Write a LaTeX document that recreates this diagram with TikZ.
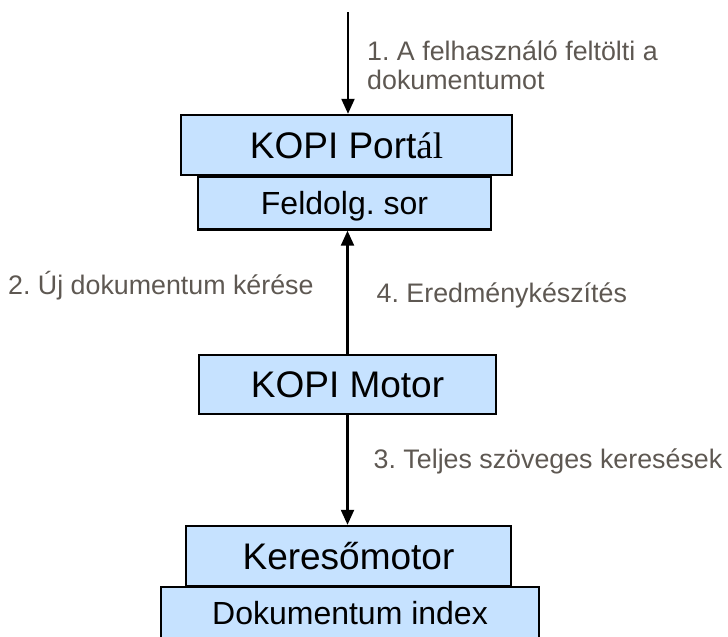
\documentclass[tikz,border=0pt]{standalone}
\usepackage{fontspec}
\setmainfont{Liberation Sans}
\newfontfamily\timesfont{Liberation Serif}
\usepackage{xcolor}
\usetikzlibrary{arrows.meta}
\frenchspacing
\definecolor{dobozkek}{RGB}{198,226,255}
\definecolor{szurke}{RGB}{94,88,82}
\def\felirat#1#2#3{\node[felirat] (#1) at (#2) {#3}}
\tikzstyle{doboz}=[draw=black,line width=2.4pt,fill=dobozkek,inner sep=0pt,text height=26.5pt,text depth=0pt,font=\fontsize{37}{44}\selectfont]
\tikzstyle{aldoboz}=[doboz,text height=23pt,font=\fontsize{32}{38}\selectfont]
\tikzstyle{felirat}=[anchor=base west,inner sep=0pt,align=left,text=szurke,font=\fontsize{26.8}{29}\selectfont]
\tikzstyle{nyil}=[line width=2.2pt,-{Triangle[length=15pt,width=13pt]}]

\begin{document}
\begin{tikzpicture}[x=1pt,y=-1pt]
    \useasboundingbox (0,0) rectangle (728,637);
    \node[doboz,minimum width=331pt,minimum height=60pt] (portal) at (346.5,145) {KOPI Port{\timesfont ál}};
    \node[aldoboz,minimum width=293pt,minimum height=53pt] (sor) at (344.5,203) {Feldolg. sor};
    \node[doboz,minimum width=297pt,minimum height=59pt] (motor) at (347.5,384.5) {KOPI Motor};
    \node[doboz,minimum width=325pt,minimum height=60pt] (kereso) at (348.5,556) {Keresőmotor};
    \node[aldoboz,minimum width=378pt,minimum height=52pt] (index) at (350,613) {Dokumentum index};
    \coordinate (be) at (348,12);
    \draw[nyil] (be) -- (be |- portal.north);
    \draw[nyil] (motor.north) -- (motor.north |- sor.south);
    \draw[nyil] (motor.south) -- (motor.south |- kereso.north);
    % ket soros felirat: a base a masodik sor alapvonala
    \felirat{f1}{367,89}{1. A felhasználó feltölti a\\dokumentumot};
    \felirat{f2}{8,294.5}{2. Új dokumentum kérése};
    \felirat{f4}{376.5,302.5}{4. Eredménykészítés};
    \felirat{f3}{373.5,468}{3. Teljes szöveges keresések};
  \end{tikzpicture}
\end{document}
